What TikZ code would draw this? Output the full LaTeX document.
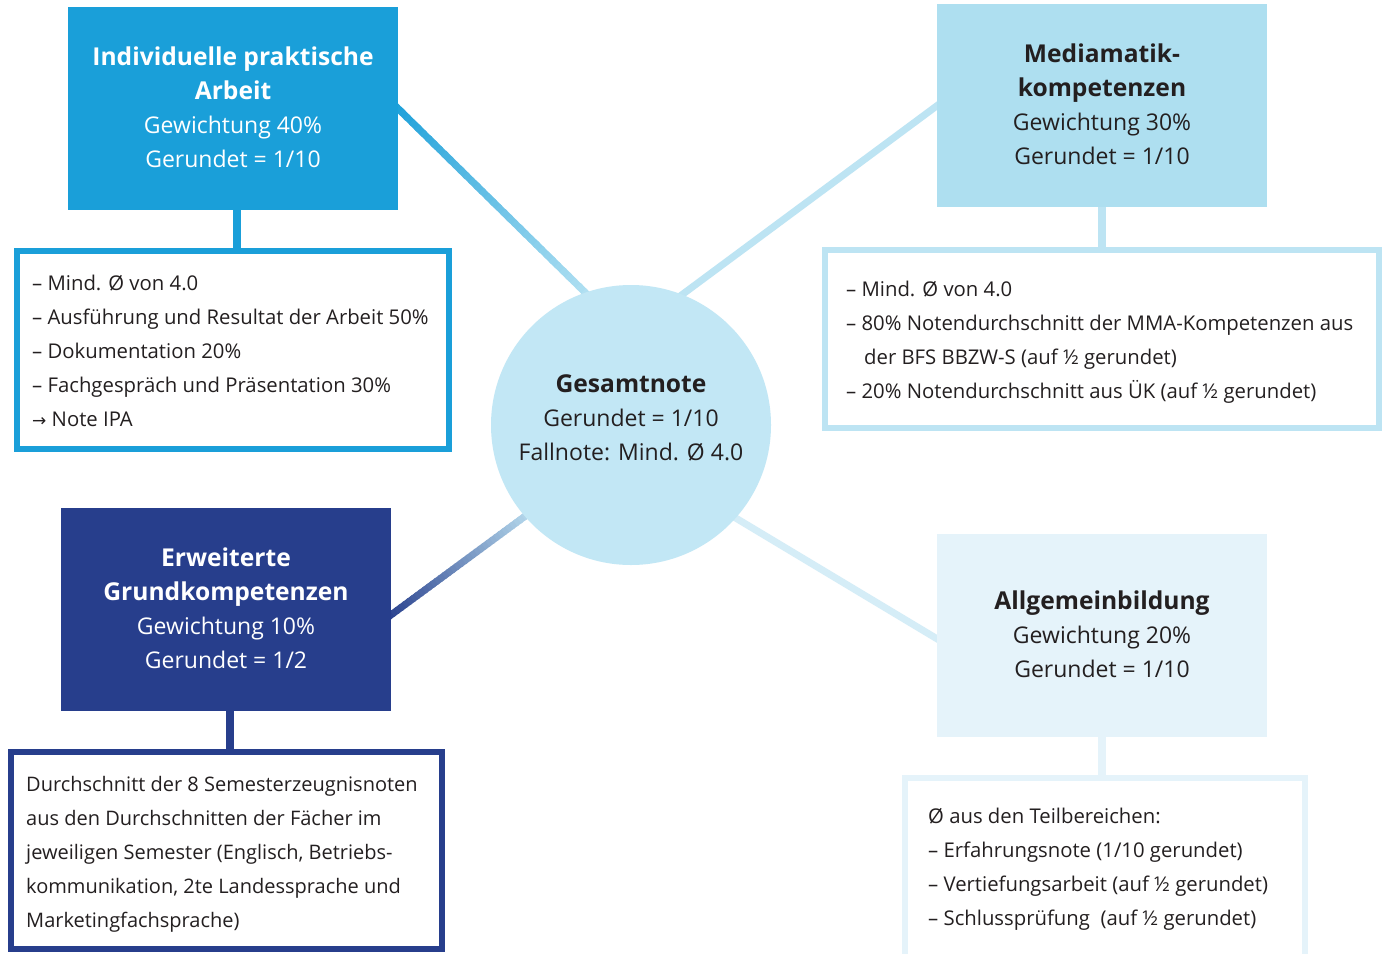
\documentclass[tikz,border=0pt]{standalone}
\usepackage{fontspec}
\setmainfont{Open Sans}
\newfontfamily\arrowfont{DejaVu Sans}
\usetikzlibrary{calc}
\pgfdeclarelayer{back}
\pgfdeclarelayer{wires}
\pgfsetlayers{back,wires,main}
\definecolor{ipa}{HTML}{1A9FD9}
\definecolor{mma}{HTML}{AEDFF0}
\definecolor{mmaline}{HTML}{BDE4F3}
\definecolor{circ}{HTML}{C2E7F5}
\definecolor{fadeend}{HTML}{BFE6F4}
\definecolor{egk}{HTML}{273E8C}
\definecolor{ab}{HTML}{E5F3FA}
\definecolor{abline}{HTML}{D5EDF7}
\definecolor{ink}{HTML}{231F20}
\newcommand\ttl[1]{{\fontsize{24.6}{34}\selectfont\bfseries #1}}
\newcommand\fadeline[4]{%
  \foreach \i in {0,...,39}{%
    \pgfmathsetmacro\ta{\i/40}%
    \pgfmathsetmacro\tb{(\i+1.4)/40}%
    \pgfmathsetmacro\mix{100-100*(\i+0.5)/40}%
    \draw[diag, draw=#3!\mix!#4] ($(#1)!\ta!(#2)$) -- ($(#1)!\tb!(#2)$);
  }}
\begin{document}
\begin{tikzpicture}[x=1pt,y=-1pt,
  head/.style={rectangle, minimum width=330pt, minimum height=203pt, inner sep=0pt, align=center, font=\fontsize{23}{34}\selectfont},
  detail/.style={rectangle, line width=6pt, fill=white, inner sep=0pt},
  dtext/.style={anchor=west, align=left, inner sep=0pt, font=\fontsize{20.3}{34}\selectfont, text=ink},
  diag/.style={line width=7pt},
  vconn/.style={line width=8pt}
]
\useasboundingbox (0,0) rectangle (1386,953);
\begin{pgfonlayer}{back}
\fill[white] (0,0) rectangle (1386,953);
\end{pgfonlayer}

% header boxes
\node[head, fill=ipa, text=white] (ipa) at (233,108.5) {};
\node[head, fill=mma, text=ink] (mma) at (1102,105.5) {};
\node[head, fill=egk, text=white] (egk) at (226,609.5) {};
\node[head, fill=ab, text=ink] (ab) at (1102,635.5) {};
\node[head, minimum width=0pt, minimum height=0pt, text=white] (ipat) at (233,107.5)
  {\ttl{Individuelle praktische}\\\ttl{Arbeit}\\Gewichtung 40\%\\Gerundet = 1/10};
\node[head, minimum width=0pt, minimum height=0pt, text=ink] (mmah) at (1102,104.5)
  {\ttl{Mediamatik-}\\\ttl{kompetenzen}\\Gewichtung 30\%\\Gerundet = 1/10};
\node[head, minimum width=0pt, minimum height=0pt, text=white] (egkh) at (226,608)
  {\ttl{Erweiterte}\\\ttl{Grundkompetenzen}\\Gewichtung 10\%\\Gerundet = 1/2};
\node[head, minimum width=0pt, minimum height=0pt, text=ink] (abh) at (1102,634)
  {\ttl{Allgemeinbildung}\\Gewichtung 20\%\\Gerundet = 1/10};

% central circle
\node[circle, fill=circ, minimum size=280pt, inner sep=0pt] (ges) at (631,425) {};
\node[align=center, inner sep=0pt, text=ink, font=\fontsize{23}{34}\selectfont] (gest) at (631,418)
  {\ttl{Gesamtnote}\\Gerundet = 1/10\\Fallnote: Mind. Ø 4.0};

% detail boxes
\node[detail, draw=ipa, minimum width=432.5pt, minimum height=198pt] (ipad) at (232.75,350) {};
\node[dtext] (ipadt) at (32,350.5)
  {– Mind. Ø von 4.0\\– Ausführung und Resultat der Arbeit 50\%\\– Dokumentation 20\%\\– Fachgespräch und Präsentation 30\%\\{\arrowfont\fontsize{17}{34}\selectfont →} Note IPA};

\node[detail, draw=mmaline, minimum width=554pt, minimum height=178pt] (mmad) at (1102,338.7) {};
\node[dtext] (mmadt) at (846,342.5)
  {– Mind. Ø von 4.0\\– 80\% Notendurchschnitt der MMA-Kompetenzen aus\\\hspace*{18pt}der BFS BBZW-S (auf ½ gerundet)\\– 20\% Notendurchschnitt aus ÜK (auf ½ gerundet)};

\node[detail, draw=egk, minimum width=431.5pt, minimum height=196.4pt] (egkd) at (226.25,850.5) {};
\node[dtext, font=\fontsize{20}{34}\selectfont] (egkdt) at (26,854)
  {Durchschnitt der 8 Semesterzeugnisnoten\\aus den Durchschnitten der Fächer im\\jeweiligen Semester (Englisch, Betriebs-\\kommunikation, 2te Landessprache und\\Marketingfachsprache)};

\node[detail, draw=ab, minimum width=400pt, minimum height=180pt] (abd) at (1105,868) {};
\node[dtext] (abdt) at (928,869)
  {Ø aus den Teilbereichen:\\– Erfahrungsnote (1/10 gerundet)\\– Vertiefungsarbeit (auf ½ gerundet)\\– Schlussprüfung\ \ (auf ½ gerundet)};

% connector end points
\coordinate (ipaS) at (390,100.6);
\coordinate (ipaE) at (605,312);
\coordinate (mmaS) at (944,100.5);
\coordinate (mmaE) at (660,311);
\coordinate (egkS) at (384.5,619.7);
\coordinate (egkE) at (543,503);
\coordinate (abS) at (714,505);
\coordinate (abE) at (944,643);
\coordinate (ipaV) at (236.7,200);
\coordinate (egkV) at (230,700);

\begin{pgfonlayer}{wires}
\fadeline{ipaS}{ipaE}{ipa}{fadeend}
\fadeline{egkS}{egkE}{egk}{circ}
\draw[diag, mmaline] (mmaS) -- (mmaE);
\draw[diag, abline] (abS) -- (abE);
\draw[vconn, ipa] (ipaV) -- (ipaV |- ipad.north);
\draw[vconn, mmaline] (mma.south) -- (mma.south |- mmad.north);
\draw[vconn, egk] (egkV) -- (egkV |- egkd.north);
\draw[vconn, ab] (ab.south) -- (ab.south |- abd.north);
\end{pgfonlayer}
\end{tikzpicture}
\end{document}
